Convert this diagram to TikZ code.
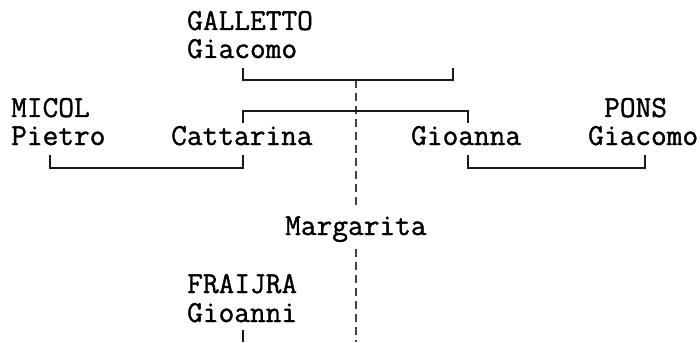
\documentclass[tikz,border=0pt]{standalone}
\usepackage{fontspec}
\setmonofont[FakeBold=1.2]{Latin Modern Mono}
\begin{document}
\begin{tikzpicture}[x=1pt,y=-1pt,
    person/.style={anchor=base west,inner sep=0pt,font=\ttfamily\fontsize{30.5}{32}\selectfont},
    link/.style={line width=1.8pt,black!90},
    desc/.style={line width=1.8pt,black!75,dash pattern=on 8pt off 5pt}]
        \useasboundingbox (0,0) rectangle (700,342);
        % first couple
        \node[person] (gallettoA) at (187,30) {GALLETTO};
        \node[person] (giacomoA) at (187,58) {Giacomo};
        \coordinate (wifeA) at (453,68);
        % second row
        \node[person] (micol) at (11,117) {MICOL};
        \node[person] (pietro) at (11,145) {Pietro};
        \node[person] (cattarina) at (171,145) {Cattarina};
        \node[person] (gioanna) at (411,145) {Gioanna};
        \node[person] (pons) at (604,117) {PONS};
        \node[person] (giacomoB) at (588,145) {Giacomo};
        % lower rows
        \node[person] (fraijra) at (187,293) {FRAIJRA};
        \node[person] (gioanni) at (187,322) {Gioanni};
        \coordinate (down) at (356,342);
        % descent line, behind the name
        \draw[desc] (356,80) -- (down);
        \node[person,fill=white,inner xsep=2pt,inner ysep=6pt] (margarita) at (283,235) {Margarita};
        % brackets
        \draw[link] ([xshift=56pt,yshift=-10pt]giacomoA.base west) -- ++(0,12) -| (wifeA);
        \draw[link] ([xshift=72pt,yshift=22pt]cattarina.base west) -- ++(0,-12) -| ([xshift=57pt,yshift=22pt]gioanna.base west);
        \draw[link] ([xshift=39pt,yshift=-10pt]pietro.base west) -- ++(0,13) -| ([xshift=72pt,yshift=-10pt]cattarina.base west);
        \draw[link] ([xshift=57pt,yshift=-10pt]gioanna.base west) -- ++(0,13) -| ([xshift=57pt,yshift=-10pt]giacomoB.base west);
        \draw[link] ([xshift=56pt,yshift=-8pt]gioanni.base west) -- ([xshift=56pt,yshift=-20pt]gioanni.base west);
\end{tikzpicture}
\end{document}
